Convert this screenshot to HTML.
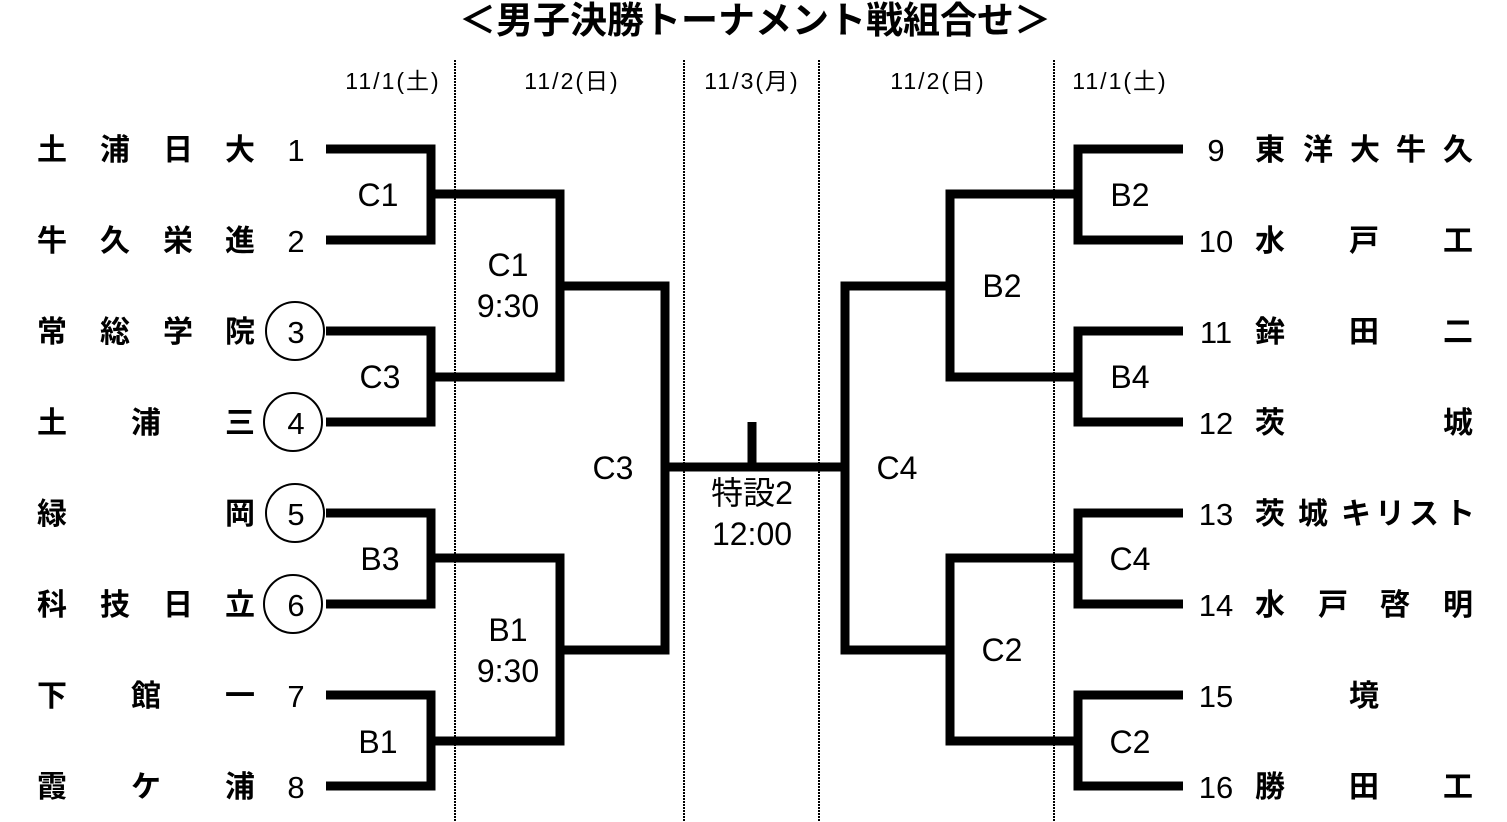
<!DOCTYPE html>
<html><head><meta charset="utf-8"><style>
html,body{margin:0;padding:0;background:#fff;}
svg{display:block;}
</style></head><body>
<svg width="1507" height="822" viewBox="0 0 1507 822" xmlns="http://www.w3.org/2000/svg" font-family="Liberation Sans, Noto Sans CJK JP, sans-serif">
<text x="755" y="33" font-size="37" font-weight="bold" text-anchor="middle">＜男子決勝トーナメント戦組合せ＞</text>
<g font-size="23" text-anchor="middle" letter-spacing="2">
<text x="393" y="89">11/1(土)</text>
<text x="572" y="89">11/2(日)</text>
<text x="752" y="89">11/3(月)</text>
<text x="938" y="89">11/2(日)</text>
<text x="1120" y="89">11/1(土)</text>
</g>
<g stroke="#000" stroke-width="2" stroke-dasharray="2,1">
<line x1="455" y1="60" x2="455" y2="822"/><line x1="684" y1="60" x2="684" y2="822"/>
<line x1="819" y1="60" x2="819" y2="822"/><line x1="1054" y1="60" x2="1054" y2="822"/>
</g>
<g fill="none" stroke="#000" stroke-width="9">
<polyline points="326,149 431,149 431,240 326,240"/>
<polyline points="326,331 431,331 431,422 326,422"/>
<polyline points="326,513 431,513 431,604 326,604"/>
<polyline points="326,695 431,695 431,786 326,786"/>
<polyline points="431,194 560,194 560,377 431,377"/>
<polyline points="431,558 560,558 560,741 431,741"/>
<polyline points="560,286 665,286 665,650 560,650"/>
<polyline points="1183,149 1078,149 1078,240 1183,240"/>
<polyline points="1183,331 1078,331 1078,422 1183,422"/>
<polyline points="1183,513 1078,513 1078,604 1183,604"/>
<polyline points="1183,695 1078,695 1078,786 1183,786"/>
<polyline points="1078,194 950,194 950,377 1078,377"/>
<polyline points="1078,558 950,558 950,741 1078,741"/>
<polyline points="950,286 845,286 845,650 950,650"/>
<line x1="665" y1="467" x2="845" y2="467"/>
<line x1="752" y1="422" x2="752" y2="467"/>
</g>
<g fill="#fff" stroke="#000" stroke-width="2">
<circle cx="295" cy="331" r="29"/><circle cx="293" cy="422" r="29"/>
<circle cx="295" cy="513" r="29"/><circle cx="293" cy="604" r="29"/>
</g>
<g font-size="31" text-anchor="middle">
<text x="296" y="161">1</text><text x="296" y="252">2</text><text x="296" y="343">3</text><text x="296" y="434">4</text>
<text x="296" y="525">5</text><text x="296" y="616">6</text><text x="296" y="707">7</text><text x="296" y="798">8</text>
<text x="1216" y="161">9</text><text x="1216" y="252">10</text><text x="1216" y="343">11</text><text x="1216" y="434">12</text>
<text x="1216" y="525">13</text><text x="1216" y="616">14</text><text x="1216" y="707">15</text><text x="1216" y="798">16</text>
</g>
<g font-size="30" font-weight="bold" text-anchor="middle">
<text x="52" y="160">土</text><text x="115" y="160">浦</text><text x="178" y="160">日</text><text x="240" y="160">大</text>
<text x="52" y="251">牛</text><text x="115" y="251">久</text><text x="178" y="251">栄</text><text x="240" y="251">進</text>
<text x="52" y="342">常</text><text x="115" y="342">総</text><text x="178" y="342">学</text><text x="240" y="342">院</text>
<text x="52" y="433">土</text><text x="146" y="433">浦</text><text x="240" y="433">三</text>
<text x="52" y="524">緑</text><text x="240" y="524">岡</text>
<text x="52" y="615">科</text><text x="115" y="615">技</text><text x="178" y="615">日</text><text x="240" y="615">立</text>
<text x="52" y="706">下</text><text x="146" y="706">館</text><text x="240" y="706">一</text>
<text x="52" y="797">霞</text><text x="146" y="797">ケ</text><text x="240" y="797">浦</text>
<text x="1270" y="160">東</text><text x="1318" y="160">洋</text><text x="1365" y="160">大</text><text x="1411" y="160">牛</text><text x="1458" y="160">久</text>
<text x="1270" y="251">水</text><text x="1364" y="251">戸</text><text x="1458" y="251">工</text>
<text x="1270" y="342">鉾</text><text x="1364" y="342">田</text><text x="1458" y="342">二</text>
<text x="1270" y="433">茨</text><text x="1458" y="433">城</text>
<text x="1270" y="524">茨</text><text x="1313" y="524">城</text><text x="1356" y="524">キ</text><text x="1390" y="524">リ</text><text x="1424" y="524">ス</text><text x="1460" y="524">ト</text>
<text x="1270" y="615">水</text><text x="1333" y="615">戸</text><text x="1395" y="615">啓</text><text x="1458" y="615">明</text>
<text x="1364" y="706">境</text>
<text x="1270" y="797">勝</text><text x="1364" y="797">田</text><text x="1458" y="797">工</text>
</g>
<g font-size="32" text-anchor="middle">
<text x="378" y="206">C1</text><text x="380" y="388">C3</text><text x="380" y="570">B3</text><text x="378" y="753">B1</text>
<text x="508" y="276">C1</text><text x="508" y="317">9:30</text>
<text x="508" y="641">B1</text><text x="508" y="682">9:30</text>
<text x="613" y="479">C3</text>
<text x="897" y="479">C4</text>
<text x="752" y="504">特設2</text><text x="752" y="545">12:00</text>
<text x="1002" y="297">B2</text><text x="1002" y="661">C2</text>
<text x="1130" y="206">B2</text><text x="1130" y="388">B4</text><text x="1130" y="570">C4</text><text x="1130" y="753">C2</text>
</g>
</svg>
</body></html>
